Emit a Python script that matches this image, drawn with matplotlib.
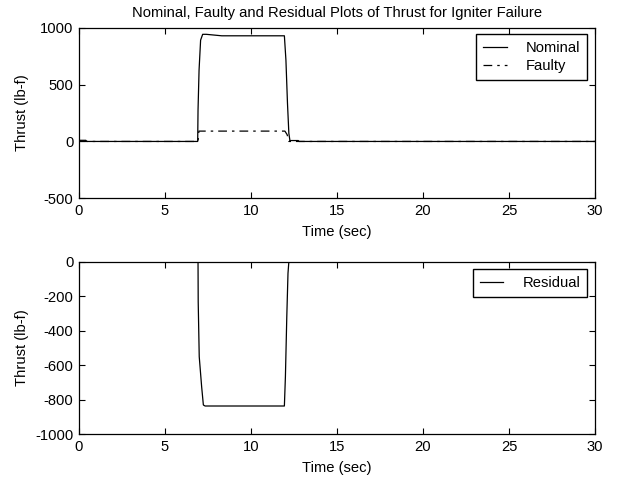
import numpy as np
import matplotlib.pyplot as plt

plt.rcParams['font.family'] = ['Liberation Sans', 'DejaVu Sans']
plt.rcParams['font.size'] = 10.6
plt.rcParams['axes.unicode_minus'] = False

# nominal thrust
t_nom = [0, 0.05, 0.4, 0.45, 6.9, 6.92, 6.98, 7.07, 7.19, 7.4, 8.3, 11.94,
         12.03, 12.12, 12.2, 12.27, 12.3, 12.75, 12.8, 30]
nominal = [0, 10, 10, 0, 0, 275, 627, 891, 942, 942, 929, 929,
           715, 336, 72, 0, 8, 8, 0, 0]

# faulty thrust
t_fault = [0, 6.92, 6.97, 11.97, 12.1, 12.2, 30]
faulty = [0, 0, 91, 91, 60, 0, 0]

# residual
t_res = [0, 6.92, 6.93, 6.99, 7.13, 7.23, 7.33, 11.94, 12.0, 12.08, 12.15, 12.2, 30]
residual = [0, 0, -232, -550, -724, -830, -836, -836, -666, -319, -67, 0, 0]

fig = plt.figure(figsize=(6.21, 4.83), dpi=100)
ax1 = fig.add_axes([0.1272, 0.5894, 0.831, 0.3532])
ax2 = fig.add_axes([0.1272, 0.1008, 0.831, 0.3574])

leg_kw = dict(loc='upper right', borderaxespad=0, fancybox=False, edgecolor='black',
              framealpha=1, handlelength=1.6, handletextpad=1.3, borderpad=0.45,
              labelspacing=0.3)

ax1.plot(t_nom, nominal, color='black', lw=0.9, label='Nominal')
ax1.plot(t_fault, faulty, color='black', lw=0.9, dashes=(7, 4, 2, 4), label='Faulty')
ax1.set_xlim(0, 30)
ax1.set_ylim(-500, 1000)
ax1.set_yticks([-500, 0, 500, 1000])
ax1.set_title('Nominal, Faulty and Residual Plots of Thrust for Igniter Failure',
              fontsize=10.6, pad=8)
ax1.legend(bbox_to_anchor=(0.984, 0.961), **leg_kw)

ax2.plot(t_res, residual, color='black', lw=0.9, label='Residual')
ax2.set_xlim(0, 30)
ax2.set_ylim(-1000, 0)
ax2.set_yticks(np.arange(-1000, 1, 200))
ax2.legend(bbox_to_anchor=(0.984, 0.956), **leg_kw)

for ax in [ax1, ax2]:
    ax.set_xticks(np.arange(0, 31, 5))
    ax.set_xlabel('Time (sec)', labelpad=5)
    ax.set_ylabel('Thrust (lb-f)')
    ax.yaxis.set_label_coords(-0.097, 0.5)
    ax.tick_params(direction='in', top=True, right=True, length=4, width=0.8, pad=4)
    for s in ax.spines.values():
        s.set_linewidth(0.9)

fig.savefig('out.png', dpi=100)
